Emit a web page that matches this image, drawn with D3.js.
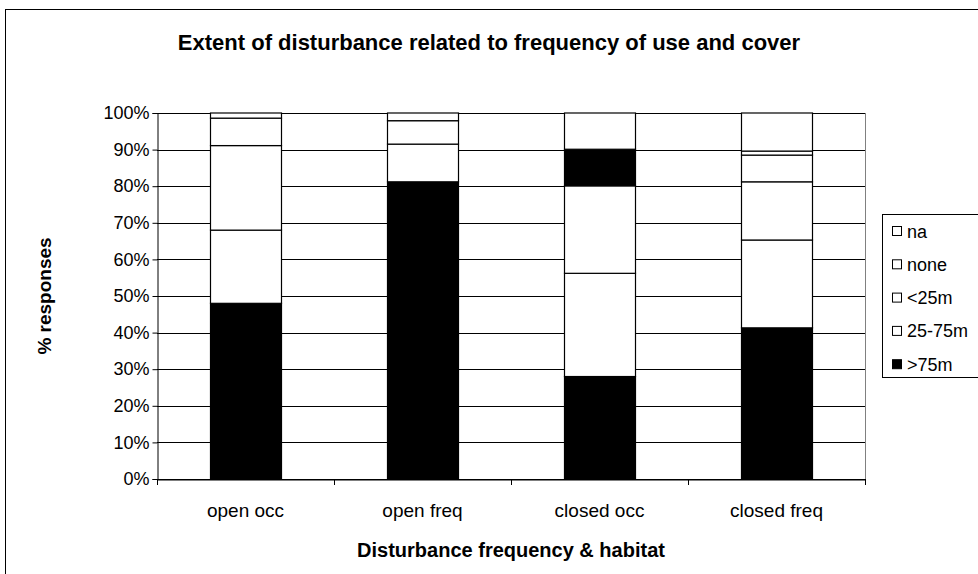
<!DOCTYPE html>
<html>
<head>
<meta charset="utf-8">
<script src="https://cdn.jsdelivr.net/npm/d3@7/dist/d3.min.js"></script>
<style>
  html, body { margin: 0; padding: 0; background: #fff; }
  svg { display: block; font-family: "Liberation Sans", Arial, sans-serif; }
</style>
</head>
<body>
<svg id="chart" width="978" height="574"></svg>
<script>
// Survey responses (% of respondents) by disturbance frequency & habitat
const categories = ["open occ", "open freq", "closed occ", "closed freq"];
const over75m   = [48.0, 81.2, 28.0, 41.3];
const m25to75   = [20.0, 10.3, 28.2, 24.0];
const under25m  = [23.1,  6.4, 23.9, 15.9];
const noneResp  = [ 7.5,  2.1, 10.0,  7.3];
const unlisted  = [ 0.0,  0.0,  0.0,  1.1];
const naResp    = [ 1.4,  0.0,  9.9, 10.4];
const yTicks = [0, 0.1, 0.2, 0.3, 0.4, 0.5, 0.6, 0.7, 0.8, 0.9, 1.0];

// stacking order, bottom to top
const seriesKeys = [">75m", "25-75m", "<25m", "none", "unlisted", "na"];
const seriesValues = [over75m, m25to75, under25m, noneResp, unlisted, naResp];
// legend lists the top of the stack first
const legendKeys = ["na", "none", "<25m", "25-75m", ">75m"];

const seriesFill = { ">75m": "#000", "25-75m": "#fff", "<25m": "#fff", "none": "#fff", "unlisted": "#fff", "na": "#fff" };
const pointFill = { "closed occ": { "none": "#000" } };

const rows = categories.map((c, i) => {
  const r = { category: c };
  seriesKeys.forEach((k, j) => { r[k] = seriesValues[j][i]; });
  return r;
});

const svg = d3.select("#chart");
const plot = { left: 157, right: 865, top: 113, bottom: 479 };
const font = "'Liberation Sans', Arial, sans-serif";

// chart area frame
svg.append("rect")
  .attr("x", 5.5).attr("y", 9.5).attr("width", 1000).attr("height", 700)
  .attr("fill", "#fff").attr("stroke", "#000").attr("stroke-width", 1);

const x = d3.scaleBand().domain(categories)
  .range([plot.left, plot.right]).paddingInner(0.6).paddingOuter(0.3);
const y = d3.scaleLinear().domain([0, 1]).range([plot.bottom, plot.top]);

// gridlines
svg.append("g").selectAll("line").data(yTicks).join("line")
  .attr("x1", plot.left).attr("x2", plot.right)
  .attr("y1", d => Math.round(y(d)) + 0.5).attr("y2", d => Math.round(y(d)) + 0.5)
  .attr("stroke", "#000").attr("stroke-width", 1);

// plot area right edge
svg.append("line")
  .attr("x1", plot.right + 0.5).attr("x2", plot.right + 0.5)
  .attr("y1", plot.top).attr("y2", plot.bottom)
  .attr("stroke", "#808080").attr("stroke-width", 1);

// stacked 100% columns
const stack = d3.stack().keys(seriesKeys).offset(d3.stackOffsetExpand);
const layers = stack(rows);

svg.append("g").selectAll("g").data(layers).join("g")
  .each(function(layer) {
    d3.select(this).selectAll("rect").data(layer.filter(d => d[1] - d[0] > 0)).join("rect")
      .attr("x", d => Math.round(x(d.data.category)) + 0.5)
      .attr("width", Math.round(x.bandwidth()))
      .attr("y", d => y(d[1]))
      .attr("height", d => y(d[0]) - y(d[1]))
      .attr("fill", d => (pointFill[d.data.category] && pointFill[d.data.category][layer.key]) || seriesFill[layer.key])
      .attr("stroke", "#000").attr("stroke-width", 1.2);
  });

// y axis
const yAxis = svg.append("g")
  .attr("transform", `translate(${plot.left + 0.5},0)`)
  .call(d3.axisLeft(y).tickValues(yTicks).tickFormat(d3.format(".0%")).tickSize(5).tickPadding(3));
yAxis.select(".domain").attr("stroke", "#000");
yAxis.selectAll(".tick line").attr("stroke", "#000");
yAxis.selectAll(".tick text")
  .attr("font-size", 18).attr("fill", "#000").attr("font-family", font);

// x axis: labels at band centres, tick marks between categories
const xAxis = svg.append("g")
  .attr("transform", `translate(0,${plot.bottom + 0.5})`)
  .call(d3.axisBottom(x).tickSize(0).tickPadding(24).tickSizeOuter(0));
xAxis.select(".domain").attr("stroke", "#000");
xAxis.selectAll(".tick text")
  .attr("font-size", 19).attr("fill", "#000").attr("font-family", font);

const boundaries = d3.range(categories.length + 1)
  .map(i => plot.left + i * x.step());
svg.append("g").selectAll("line").data(boundaries).join("line")
  .attr("x1", d => Math.round(d) + 0.5).attr("x2", d => Math.round(d) + 0.5)
  .attr("y1", plot.bottom).attr("y2", plot.bottom + 6)
  .attr("stroke", "#000");

// titles
svg.append("text")
  .attr("x", 489).attr("y", 50)
  .attr("text-anchor", "middle")
  .attr("font-size", 22).attr("font-weight", "bold")
  .text("Extent of disturbance related to frequency of use and cover");

svg.append("text")
  .attr("x", (plot.left + plot.right) / 2).attr("y", 557)
  .attr("text-anchor", "middle")
  .attr("font-size", 20).attr("font-weight", "bold")
  .text("Disturbance frequency & habitat");

svg.append("text")
  .attr("transform", `translate(51,${(plot.top + plot.bottom) / 2}) rotate(-90)`)
  .attr("text-anchor", "middle")
  .attr("font-size", 19).attr("font-weight", "bold")
  .text("% responses");

// legend
const legend = { x: 882, top: 214, rowH: 33.3 };
svg.append("rect")
  .attr("x", legend.x + 0.5).attr("y", legend.top + 0.5)
  .attr("width", 200).attr("height", 163)
  .attr("fill", "#fff").attr("stroke", "#000");

const items = svg.append("g").selectAll("g").data(legendKeys).join("g")
  .attr("transform", (d, i) => `translate(${legend.x},${legend.top + 17 + i * legend.rowH})`);
items.append("rect")
  .attr("x", 10.5).attr("y", -4.5).attr("width", 9).attr("height", 9)
  .attr("fill", d => seriesFill[d]).attr("stroke", "#000");
items.append("text")
  .attr("x", 25).attr("y", 6.5)
  .attr("font-size", 18)
  .text(d => d);
</script>
</body>
</html>
